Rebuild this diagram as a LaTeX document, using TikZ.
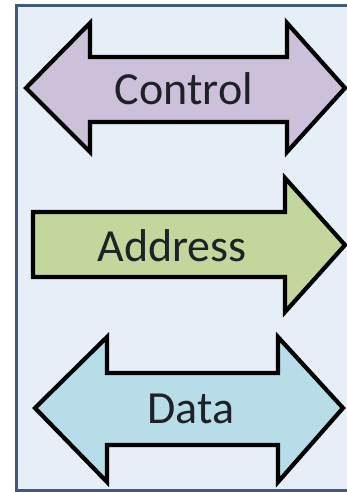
\documentclass[tikz,border=0pt]{standalone}
\usepackage{fontspec}
\setmainfont{Carlito}
\definecolor{framefill}{HTML}{E6EEF8}
\definecolor{frameline}{HTML}{3F5B80}
\definecolor{ctrlfill}{HTML}{CCC0DA}
\definecolor{addrfill}{HTML}{C3D69B}
\definecolor{datafill}{HTML}{B7DEE8}
\definecolor{txt}{HTML}{1E2228}
\tikzset{
  busarrow/.style={draw=black, line width=4.2pt, line join=miter, miter limit=10},
  buslabel/.style={text=txt, font=\fontsize{46}{50}\selectfont, inner sep=0pt}
}
\begin{document}
\begin{tikzpicture}[x=1pt,y=-1pt]
\useasboundingbox (0,0) rectangle (347,492);
\clip (0,0) rectangle (347,492);
\fill[white] (0,0) rectangle (347,492);
\draw[frameline, fill=framefill, line width=3pt] (16.5,5.5) rectangle (360,490);
% Control
\draw[busarrow, fill=ctrlfill] (26,88) -- (90,23) -- (90,57) -- (287,57) -- (287,23) -- (345,88) -- (287,152) -- (287,122) -- (90,122) -- (90,152) -- cycle;
\node[buslabel] (control) at (184,89) {Control};
% Address
\draw[busarrow, fill=addrfill] (33,212) -- (285,212) -- (285,178) -- (345,245) -- (285,312) -- (285,277) -- (33,277) -- cycle;
\node[buslabel] (address) at (172,246) {Address};
% Data
\draw[busarrow, fill=datafill] (35,408) -- (107,337) -- (107,373) -- (278,373) -- (278,337) -- (343,408) -- (278,482) -- (278,445) -- (107,445) -- (107,482) -- cycle;
\node[buslabel] (data) at (191,409) {Data};
\end{tikzpicture}
\end{document}
